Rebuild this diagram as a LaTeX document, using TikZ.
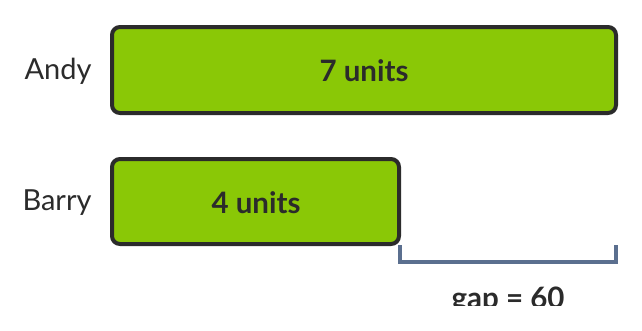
\documentclass[tikz,border=0pt]{standalone}
\usepackage{fontspec}
\setmainfont{Lato}
\definecolor{barfill}{HTML}{8AC806}
\definecolor{ink}{HTML}{2B2B2B}
\definecolor{bracketc}{HTML}{5B6F8F}
\begin{document}
\begin{tikzpicture}[x=1pt,y=-1pt,
  barbox/.style={draw=ink, fill=barfill, line width=4pt, rounded corners=8pt},
  personlabel/.style={text=ink, font=\fontsize{29}{32}\selectfont, inner sep=0pt},
  unitlabel/.style={text=ink, font=\fontsize{29.5}{32}\selectfont\bfseries, inner sep=0pt},
  brk/.style={draw=bracketc, line width=3.2pt}]
\useasboundingbox (0,0) rectangle (642,330);
\fill[white] (0,0) rectangle (642,330);
\draw[barbox] (112,27) rectangle (616,113);
\draw[barbox] (112,159) rectangle (399,244);
\node[unitlabel] (a) at (364,71) {7 units};
\node[unitlabel] (b) at (256,203) {4 units};
\node[personlabel] (andy) at (58,71) {Andy};
\node[personlabel] (barry) at (57,203) {Barry};
\coordinate (b1) at (400,245);
\coordinate (b2) at (400,262);
\coordinate (b3) at (616,262);
\coordinate (b4) at (616,245);
\draw[brk] (b1) -- (b2) -- (b3) -- (b4);
\begin{scope}
\clip (300,270) rectangle (642,305);
\node[unitlabel, anchor=base] (gap) at (508,308) {gap = 60};
\end{scope}
\end{tikzpicture}
\end{document}
